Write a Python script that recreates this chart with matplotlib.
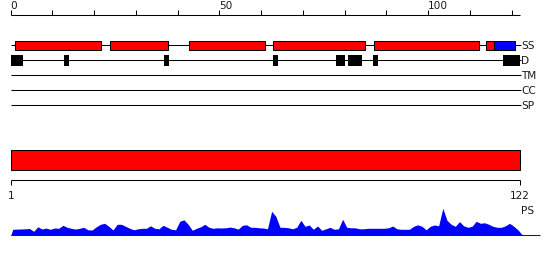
import matplotlib
matplotlib.use("Agg")
import matplotlib.pyplot as plt
import numpy as np

# ---- data ----
seq_len = 122
top_ticks = list(range(0, 121, 10))
top_tick_labels = {0: "0", 50: "50", 100: "100"}
track_names = ["SS", "D", "TM", "CC", "SP"]

ss_helix = [(1.0, 21.7), (23.9, 37.7), (42.7, 61.0), (62.9, 84.9), (86.9, 112.1), (113.9, 115.8)]
ss_strand = [(115.8, 120.9)]
disorder = [(0.0, 2.9), (12.8, 14.0), (36.8, 37.9), (62.9, 64.0), (77.9, 80.1),
            (80.8, 84.1), (86.7, 87.9), (117.8, 122.0)]
domain_bar = (0.0, 122.0)
bottom_labels = ["1", "122"]

ps_values = [6, 6.2, 6.3, 6.5, 6.8, 4, 8.5, 6.3, 7.2, 6,
             7.3, 7, 10, 8, 7, 6.2, 7, 8, 5.5, 5.3,
             8.5, 11, 12, 9, 5.3, 11, 11, 9, 7, 5.5,
             6.5, 7, 7, 9.5, 7, 6.5, 10, 8, 6, 5.5,
             14, 15.5, 11, 5, 7, 8.5, 11, 8, 7, 7.5,
             7.3, 7.5, 8.2, 7.5, 6.2, 10, 10.5, 8, 8, 7.5,
             7.3, 6.5, 24, 19, 8, 8, 7.5, 6.5, 8, 15,
             9, 10.3, 6, 9.3, 5, 6.5, 8, 6, 6.5, 16,
             8, 7.5, 7.5, 6.5, 6.5, 7, 7, 7, 7, 7,
             7.5, 9.3, 6.5, 6, 6, 6, 9, 10.5, 9, 5.5,
             9, 10.3, 9.5, 27, 15, 11, 9, 13.7, 9.5, 8,
             9, 14, 12, 12.5, 11, 9, 8, 8, 9.5, 12,
             9, 5.5]

# ---- layout (pixel-based y, residue-based x) ----
W, H = 550, 260
x0_px, px_per_res = 10.7, 4.175
fig = plt.figure(figsize=(W / 100, H / 100), dpi=100)
ax = fig.add_axes([0, 0, 1, 1])
ax.set_xlim(-x0_px / px_per_res, (W - x0_px) / px_per_res)
ax.set_ylim(H, 0)
ax.axis("off")

lw = 0.75
fs = 7.6
font = "DejaVu Sans"
tc = "#1a1a1a"

# top ruler
ruler_y = 14.7
ax.plot([0, seq_len], [ruler_y, ruler_y], color="black", lw=lw, solid_capstyle="butt")
for t in top_ticks:
    ax.plot([t, t], [ruler_y, ruler_y - 4.3], color="black", lw=lw, solid_capstyle="butt")
    if t in top_tick_labels:
        ax.text(t - 0.1, 6.3, top_tick_labels[t], ha="left", va="center", fontsize=fs,
                family=font, color=tc)

# tracks
track_y = [45.3, 60.3, 75.3, 90.3, 105.3]
line_end = 122.2
for name, y in zip(track_names, track_y):
    ax.plot([0, line_end], [y, y], color="black", lw=lw, solid_capstyle="butt", zorder=1)
    ax.text(line_end + 0.05, y + 0.3, name, ha="left", va="center", fontsize=fs,
            family=font, color=tc)

ss_y = track_y[0]
ax.barh([ss_y] * len(ss_helix), [e - s for s, e in ss_helix], left=[s for s, e in ss_helix],
        height=9.6, color="#ff0000", edgecolor="black", linewidth=lw, zorder=2)
ax.barh([ss_y] * len(ss_strand), [e - s for s, e in ss_strand], left=[s for s, e in ss_strand],
        height=9.6, color="#0000ff", edgecolor="black", linewidth=lw, zorder=2)

d_y = track_y[1]
ax.barh([d_y] * len(disorder), [e - s for s, e in disorder], left=[s for s, e in disorder],
        height=10.6, color="black", edgecolor="black", linewidth=0, zorder=2)

# domain bar
ax.barh([160.2], [domain_bar[1] - domain_bar[0]], left=[domain_bar[0]], height=20.3,
        color="#ff0000", edgecolor="black", linewidth=lw, zorder=2)

# bottom ruler
by = 180.3
ax.plot([0, seq_len], [by, by], color="black", lw=lw, solid_capstyle="butt")
for t in (0, seq_len):
    ax.plot([t, t], [by, by + 4.3], color="black", lw=lw, solid_capstyle="butt")
ax.text(0, 196, bottom_labels[0], ha="center", va="center", fontsize=fs, family=font, color=tc)
ax.text(seq_len, 196, bottom_labels[1], ha="center", va="center", fontsize=fs, family=font, color=tc)
ax.text(122.3, 211, "PS", ha="left", va="center", fontsize=fs, family=font, color=tc)

# PS profile
base = 235.3
xs = np.concatenate([[0.0], np.arange(1, len(ps_values) + 1) - 0.5, [len(ps_values) + 0.6]])
hs = np.concatenate([[0.0], np.array(ps_values, dtype=float), [0.0]])
ax.fill_between(xs, base, base - hs, color="#0000ff", linewidth=0)
ax.plot([0, (540 - x0_px) / px_per_res], [base, base], color="#0000ff", lw=lw, solid_capstyle="butt")

fig.savefig("out.png", dpi=100)
